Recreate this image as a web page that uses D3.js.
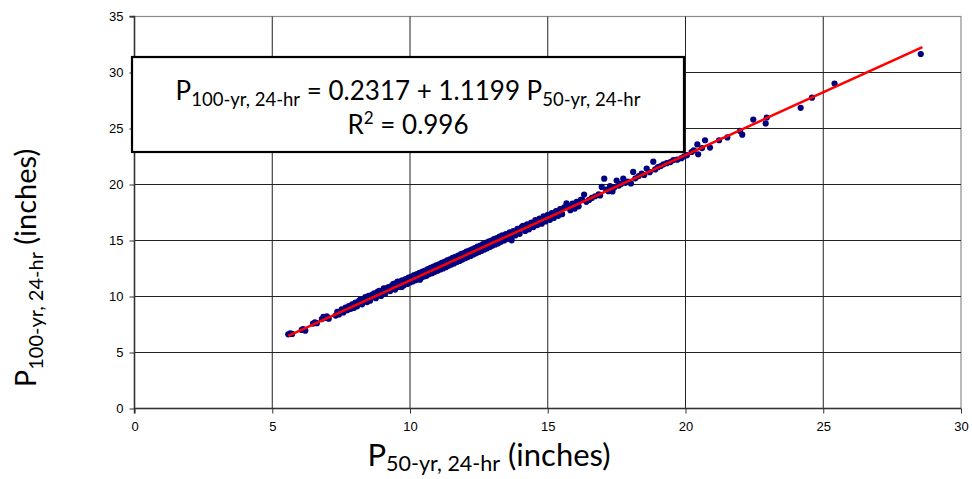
<!DOCTYPE html>
<html>
<head>
<meta charset="utf-8">
<script src="https://cdn.jsdelivr.net/npm/d3@7"></script>
<style>
  html, body { margin: 0; padding: 0; background: #fff; }
  svg { display: block; }
</style>
</head>
<body>
<svg id="chart" width="972" height="479"></svg>
<script>
// ---- data ----
const p50 = [5.58,5.65,5.72,6.07,6.12,6.20,6.48,6.55,6.62,6.80,6.86,6.93,6.98,7.05,7.30,7.36,7.42,7.52,7.58,7.66,7.72,7.78,7.85,7.90,7.96,8.02,8.08,8.15,8.20,8.26,8.32,8.38,8.44,8.50,8.55,8.62,8.70,8.76,8.82,8.88,8.95,9.00,9.05,9.10,9.16,9.22,9.28,9.35,9.40,9.46,9.50,9.55,9.60,9.66,9.70,9.72,9.78,9.84,9.90,9.95,10.00,10.05,10.10,10.15,10.20,10.25,10.30,10.35,10.36,10.40,10.45,10.50,10.55,10.60,10.65,10.70,10.75,10.80,10.85,10.90,10.95,11.00,11.05,11.10,11.15,11.20,11.25,11.30,11.35,11.40,11.45,11.50,11.55,11.60,11.65,11.70,11.75,11.80,11.85,11.90,11.95,12.00,12.05,12.10,12.15,12.20,12.25,12.30,12.35,12.40,12.45,12.50,12.55,12.60,12.65,12.70,12.75,12.80,12.85,12.90,12.95,13.00,13.05,13.10,13.15,13.20,13.25,13.30,13.35,13.42,13.48,13.55,13.62,13.68,13.69,13.75,13.82,13.90,13.98,14.05,14.10,14.18,14.25,14.32,14.40,14.48,14.55,14.62,14.70,14.78,14.85,14.92,15.00,15.08,15.15,15.22,15.30,15.38,15.45,15.52,15.60,15.68,15.75,15.82,15.90,15.98,16.05,16.12,16.20,16.25,16.32,16.40,16.50,16.60,16.72,16.85,16.90,16.96,17.05,17.12,17.20,17.26,17.35,17.42,17.50,17.58,17.66,17.74,17.82,17.90,18.02,18.10,18.18,18.30,18.41,18.50,18.59,18.70,18.83,18.90,19.00,19.10,19.20,19.32,19.45,19.56,19.70,19.85,19.95,20.05,20.22,20.30,20.43,20.46,20.60,20.71,20.89,21.22,21.52,21.98,22.06,22.46,22.91,22.95,24.18,24.59,25.41,28.54];
const p100 = [6.62,6.70,6.66,7.02,7.10,6.95,7.58,7.70,7.62,7.98,8.18,8.08,8.22,8.02,8.30,8.62,8.40,8.85,8.58,9.02,8.78,9.15,8.90,9.30,8.98,9.45,9.12,9.62,9.72,9.30,9.80,9.95,9.50,10.05,9.62,10.15,10.28,9.85,10.42,10.50,10.05,10.55,10.72,10.25,10.75,10.85,10.48,11.00,11.12,10.62,11.20,11.32,10.85,11.35,10.85,11.45,11.00,11.55,11.12,11.68,11.25,11.78,11.35,11.90,11.45,12.00,11.55,12.12,11.50,11.65,12.22,11.78,12.32,11.85,12.45,12.00,12.55,12.08,12.68,12.20,12.78,12.30,12.88,12.42,13.00,12.50,13.10,12.62,13.22,12.75,13.32,12.85,13.45,12.95,13.55,13.08,13.65,13.18,13.78,13.30,13.88,13.42,14.00,13.52,14.10,13.62,14.22,13.75,14.32,13.85,14.45,13.98,14.55,14.08,14.68,14.20,14.78,14.30,14.90,14.42,15.00,14.55,15.12,14.65,15.22,14.75,15.35,14.88,15.45,15.00,15.58,15.15,15.72,15.30,15.02,15.85,15.45,16.05,15.60,16.20,16.30,15.85,16.45,16.00,16.60,16.20,16.82,16.38,16.95,16.50,17.15,16.70,17.30,16.85,17.45,17.02,17.62,17.20,17.80,17.35,17.95,18.32,18.10,17.70,18.30,17.85,18.45,18.05,18.62,18.65,19.10,18.45,18.62,18.80,18.95,19.12,19.02,19.78,20.52,19.55,19.40,19.85,19.38,19.75,20.35,19.90,20.05,20.52,20.15,20.25,20.10,21.12,20.55,20.75,20.98,20.85,21.42,21.10,22.04,21.35,21.55,21.65,21.80,21.90,22.00,22.18,22.22,22.35,22.52,22.62,22.90,23.05,23.58,22.70,23.25,23.95,23.30,23.95,24.20,24.78,24.45,25.80,25.45,25.98,26.85,27.75,29.02,31.65];
const xTicks = [0, 5, 10, 15, 20, 25, 30];
const yTicks = [0, 5, 10, 15, 20, 25, 30, 35];
const fitIntercept = 0.2317;
const fitSlope = 1.1199;
const fitRange = [5.58, 28.6];

// ---- layout ----
const svg = d3.select("#chart");
const x = d3.scaleLinear().domain([0, 30]).range([134.5, 961]);
const y = d3.scaleLinear().domain([0, 35]).range([408.5, 16.5]);

// plot frame
svg.append("rect")
  .attr("x", x(0)).attr("y", y(35))
  .attr("width", x(30) - x(0)).attr("height", y(0) - y(35))
  .attr("fill", "#fff").attr("stroke", "#8c8c8c").attr("stroke-width", 1.2);

// gridlines
const grid = svg.append("g");
grid.selectAll("line.v").data(xTicks.filter(d => d > 0 && d < 30)).join("line")
  .attr("x1", d => x(d)).attr("x2", d => x(d))
  .attr("y1", y(35)).attr("y2", y(0))
  .attr("stroke", "#222").attr("stroke-width", 1);
grid.selectAll("line.h").data(yTicks.filter(d => d > 0 && d < 35)).join("line")
  .attr("x1", x(0)).attr("x2", x(30))
  .attr("y1", d => y(d)).attr("y2", d => y(d))
  .attr("stroke", "#222").attr("stroke-width", 1);

// axes
const xAxis = d3.axisBottom(x).tickValues(xTicks).tickSize(5).tickPadding(8).tickFormat(d3.format("d"));
const yAxis = d3.axisLeft(y).tickValues(yTicks).tickSize(5).tickPadding(6).tickFormat(d3.format("d"));
const gx = svg.append("g").attr("transform", `translate(0,${y(0)})`).call(xAxis);
const gy = svg.append("g").attr("transform", `translate(${x(0)},0)`).call(yAxis);
[gx, gy].forEach(g => {
  g.select(".domain").attr("stroke", "#333").attr("stroke-width", 1.5);
  g.selectAll(".tick line").attr("stroke", "#333");
  g.selectAll(".tick text").attr("fill", "#000")
    .style("font-family", "'Liberation Sans', Arial, sans-serif").style("font-size", "13px");
});
gx.select(".domain").attr("d", `M${x(0)},5V0H${x(30)}`);
gy.select(".domain").attr("d", `M-5,${y(35)}H0V${y(0)}`);

// points
svg.append("g").selectAll("circle").data(p50.map((d, i) => [d, p100[i]])).join("circle")
  .attr("cx", d => x(d[0])).attr("cy", d => y(d[1])).attr("r", 3.1)
  .attr("fill", "#000080");

// trend line
svg.append("line")
  .attr("x1", x(fitRange[0])).attr("y1", y(fitIntercept + fitSlope * fitRange[0]))
  .attr("x2", x(fitRange[1])).attr("y2", y(fitIntercept + fitSlope * fitRange[1]))
  .attr("stroke", "#ff0000").attr("stroke-width", 2.5);

// equation box
const box = svg.append("g");
box.append("rect").attr("x", 132).attr("y", 57).attr("width", 552).attr("height", 95)
  .attr("fill", "#fff").attr("stroke", "#000").attr("stroke-width", 2.2);
const font = "Lato, 'Open Sans', sans-serif";
const t1 = box.append("text").attr("x", 408).attr("y", 100).attr("text-anchor", "middle")
  .style("font-family", font).style("font-size", "26px").attr("fill", "#000");
t1.append("tspan").text("P");
t1.append("tspan").attr("dy", 6).style("font-size", "18.5px").text("100-yr, 24-hr");
t1.append("tspan").attr("dy", -6).text(" = 0.2317 + 1.1199 P");
t1.append("tspan").attr("dy", 6).style("font-size", "18.5px").text("50-yr, 24-hr");
const t2 = box.append("text").attr("x", 408).attr("y", 134).attr("text-anchor", "middle")
  .style("font-family", font).style("font-size", "26px").attr("fill", "#000");
t2.append("tspan").text("R");
t2.append("tspan").attr("dy", -10).style("font-size", "17px").text("2");
t2.append("tspan").attr("dy", 10).text(" = 0.996");

// axis titles
const xt = svg.append("text").attr("x", 489).attr("y", 466).attr("text-anchor", "middle")
  .style("font-family", font).style("font-size", "31px").attr("fill", "#000");
xt.append("tspan").text("P");
xt.append("tspan").attr("dy", 5).style("font-size", "21.5px").text("50-yr, 24-hr");
xt.append("tspan").attr("dy", -5).text(" (inches)");

const yt = svg.append("text").attr("transform", "translate(36,268) rotate(-90)").attr("text-anchor", "middle")
  .style("font-family", font).style("font-size", "29px").attr("fill", "#000");
yt.append("tspan").text("P");
yt.append("tspan").attr("dy", 7).style("font-size", "20px").text("100-yr, 24-hr");
yt.append("tspan").attr("dy", -7).text(" (inches)");
</script>
</body>
</html>
